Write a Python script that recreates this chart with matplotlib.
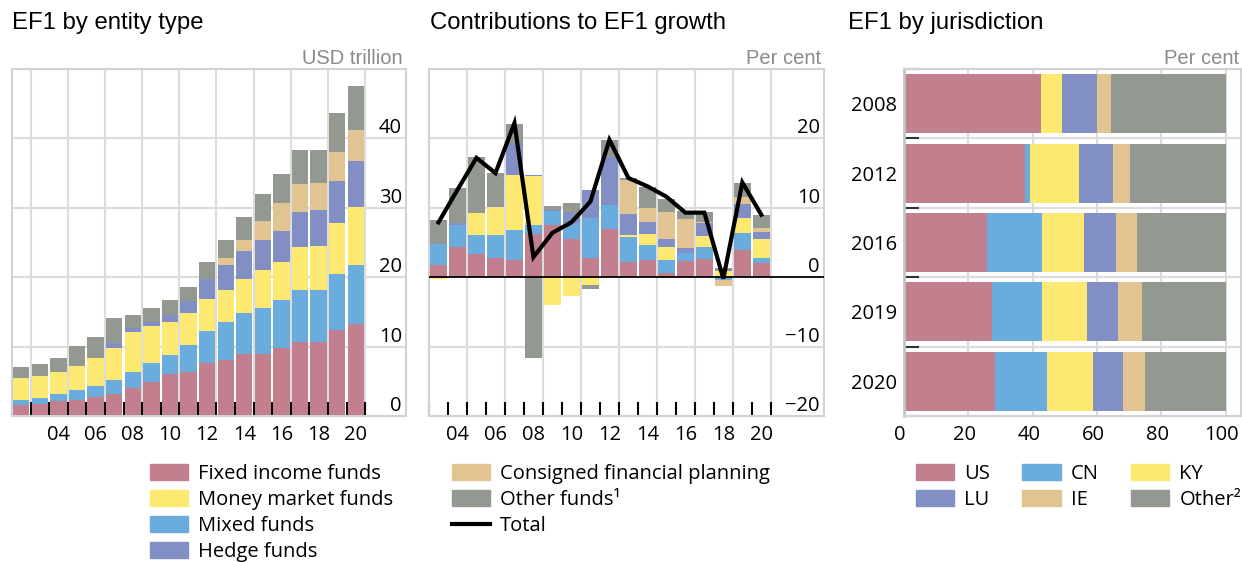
import numpy as np
import matplotlib
matplotlib.use('Agg')
import matplotlib.pyplot as plt
from matplotlib.patches import Patch
from matplotlib.lines import Line2D
from matplotlib.transforms import ScaledTranslation

plt.rcParams.update({
    'font.family': ['Open Sans', 'DejaVu Sans'],
    'font.size': 14.5,
    'axes.unicode_minus': True,
})

# ── Data: EF1 by entity type (USD trillion) ──
years_level = np.arange(2002, 2021)
fixed_income = [1.6, 1.7, 2.2, 2.3, 2.8, 3.1, 4.0, 4.9, 6.0, 6.4, 7.7, 8.1, 8.9, 9.0, 9.8, 10.7, 10.7, 12.4, 13.2]
mixed = [0.7, 0.9, 1.0, 1.5, 1.55, 2.1, 2.3, 2.75, 2.85, 3.9, 4.6, 5.4, 5.9, 6.5, 6.9, 7.4, 7.4, 8.0, 8.5]
money_market = [3.2, 3.2, 3.2, 3.4, 3.95, 4.65, 5.8, 5.3, 4.75, 4.6, 4.5, 4.6, 4.9, 5.5, 5.5, 6.2, 6.4, 7.4, 8.4]
hedge = [0, 0, 0, 0, 0, 0.6, 0.6, 0.55, 0.9, 1.6, 2.9, 3.6, 4.1, 4.35, 4.5, 5.1, 5.2, 6.0, 6.7]
consigned = [0, 0, 0, 0, 0, 0, 0, 0, 0, 0, 0, 1.05, 1.55, 2.75, 4.0, 4.1, 3.9, 4.3, 4.4]
other = [1.5, 1.7, 2.0, 2.85, 3.15, 3.6, 1.85, 2.0, 2.15, 2.05, 2.45, 2.6, 3.35, 3.9, 4.2, 4.8, 4.8, 5.5, 6.3]

# ── Data: contributions to EF1 growth (per cent) ──
years_growth = np.arange(2003, 2021)
g_fixed = [1.7, 4.3, 3.3, 2.7, 2.45, 6.25, 7.5, 5.5, 2.75, 6.9, 2.2, 2.45, 0.6, 2.3, 2.6, -0.1, 3.9, 2.0]
g_mixed = [3.1, 3.25, 2.75, 3.45, 4.35, 1.25, 2.0, 2.3, 5.8, 3.5, 3.6, 2.15, 1.9, 1.15, 1.7, -0.3, 2.45, 0.75]
g_money = [-0.2, 0, 3.15, 3.9, 7.9, 7.1, -4.0, -2.7, -1.15, 0, 0.25, 1.65, 1.85, 0, 1.6, 0.9, 2.2, 2.75]
g_hedge = [0, 0.25, 0, 0.2, 4.6, 0.1, 0.2, 1.4, 3.95, 6.9, 3.05, 1.65, 1.2, 0.75, 1.9, 0.15, 1.95, 1.0]
g_consigned = [0, 0, 0, 0, 0, 0, 0, 0, 0, 0, 4.9, 2.05, 3.9, 4.2, 0.1, -0.8, 1.0, 0.6]
g_other = [3.4, 5.0, 8.1, 4.8, 2.8, -11.6, 0.6, 1.5, -0.6, 2.4, 0.3, 3.05, 1.85, 1.1, 1.5, 0.3, 2.1, 1.8]
g_total = [7.9, 12.6, 17.2, 15.0, 22.2, 2.9, 6.4, 7.9, 10.9, 19.8, 14.3, 13.1, 11.6, 9.3, 9.3, -0.2, 13.65, 9.0]

# ── Data: EF1 by jurisdiction (per cent) ──
jur_years = ['2008', '2012', '2016', '2019', '2020']
j_us = [42.5, 37.6, 25.7, 27.3, 28.2]
j_cn = [0, 1.5, 17.1, 15.5, 16.2]
j_ky = [6.6, 15.3, 13.1, 14.0, 14.3]
j_lu = [10.9, 10.5, 10.0, 9.7, 9.3]
j_ie = [4.3, 5.3, 6.5, 7.5, 6.9]
j_other = [35.7, 29.8, 27.6, 26.0, 25.1]

# ── Colours ──
C_PINK = '#C27F8E'
C_YELLOW = '#FDE972'
C_BLUE = '#6AACDE'
C_PURPLE = '#828FC5'
C_TAN = '#E2C392'
C_GREY = '#939990'
GRID = '#dcdcdc'
FRAME = '#d2d2d2'
UNIT = '#8a8a8a'

W, H = 1242, 562
fig = plt.figure(figsize=(W / 100, H / 100), dpi=100)


def px_axes(x0, y0, x1, y1):
    return fig.add_axes([x0 / W, 1 - y1 / H, (x1 - x0) / W, (y1 - y0) / H])


def frame(ax):
    for s in ax.spines.values():
        s.set_color(FRAME)
        s.set_linewidth(1.5)


ax1 = px_axes(12, 69, 406, 416)
ax2 = px_axes(429, 69, 824, 416)
ax3 = px_axes(904, 69, 1241, 416)

# ── Panel 1: stacked levels ──
series1 = [fixed_income, mixed, money_market, hedge, consigned, other]
colors1 = [C_PINK, C_BLUE, C_YELLOW, C_PURPLE, C_TAN, C_GREY]
bottom = np.zeros(len(years_level))
for vals, col in zip(series1, colors1):
    ax1.bar(years_level, vals, 0.88, bottom=bottom, color=col, zorder=2)
    bottom += np.array(vals)
ax1.set_xlim(2001.53, 2022.7)
ax1.set_ylim(0, 50)
for x in np.arange(2002.5, 2021, 2):
    ax1.axvline(x, color=GRID, lw=1.5, zorder=0)
for y in [10, 20, 30, 40]:
    ax1.axhline(y, color=GRID, lw=1.5, zorder=0)
ax1.set_xticks(np.arange(2004, 2021, 2))
ax1.set_xticklabels([f'{y % 100:02d}' for y in range(2004, 2021, 2)])
ax1.set_xticks(np.arange(2001.5, 2021, 1), minor=True)
ax1.tick_params(axis='x', which='major', length=0, pad=6.2)
ax1.tick_params(axis='x', which='minor', direction='in', length=10, width=1.5, color='black')
ax1.set_yticks([0, 10, 20, 30, 40])
ax1.tick_params(axis='y', length=0, pad=-3, left=False, labelleft=False, labelright=True)
for t in ax1.yaxis.get_major_ticks():
    t.label2.set_ha('right')
    t.label2.set_va('bottom')
frame(ax1)

# ── Panel 2: contributions to growth ──
series2 = [g_fixed, g_mixed, g_money, g_hedge, g_consigned, g_other]
pos = np.zeros(len(years_growth))
neg = np.zeros(len(years_growth))
for vals, col in zip(series2, colors1):
    v = np.array(vals, dtype=float)
    base = np.where(v >= 0, pos, neg)
    ax2.bar(years_growth, v, 0.88, bottom=base, color=col, zorder=2)
    pos += np.where(v >= 0, v, 0)
    neg += np.where(v < 0, v, 0)
ax2.plot(years_growth, g_total, color='black', lw=3, zorder=4, solid_joinstyle='miter')
ax2.axhline(0, color='black', lw=1.3, zorder=3)
ax2.set_xlim(2002.53, 2023.3)
ax2.set_ylim(-20, 30)
for x in np.arange(2004.5, 2021, 2):
    ax2.axvline(x, color=GRID, lw=1.5, zorder=0)
for y in [-10, 10, 20]:
    ax2.axhline(y, color=GRID, lw=1.5, zorder=0)
ax2.set_xticks(np.arange(2004, 2021, 2))
ax2.set_xticklabels([f'{y % 100:02d}' for y in range(2004, 2021, 2)])
ax2.set_xticks(np.arange(2002.5, 2021, 1), minor=True)
ax2.tick_params(axis='x', which='major', length=0, pad=6.2)
ax2.tick_params(axis='x', which='minor', direction='in', length=10, width=1.5, color='black')
ax2.set_yticks([-20, -10, 0, 10, 20])
ax2.tick_params(axis='y', length=0, pad=-3, left=False, labelleft=False, labelright=True)
for t in ax2.yaxis.get_major_ticks():
    t.label2.set_ha('right')
    t.label2.set_va('bottom')
frame(ax2)

# ── Panel 3: jurisdiction shares ──
series3 = [j_us, j_cn, j_ky, j_lu, j_ie, j_other]
colors3 = [C_PINK, C_BLUE, C_YELLOW, C_PURPLE, C_TAN, C_GREY]
ypos = np.arange(len(jur_years))
left = np.zeros(len(jur_years))
for vals, col in zip(series3, colors3):
    ax3.barh(ypos, vals, 0.85, left=left, color=col, zorder=2)
    left += np.array(vals)
ax3.set_xlim(0, 104.8)
ax3.set_ylim(4.5, -0.5)
for x in [20, 40, 60, 80, 100]:
    ax3.axvline(x, color=GRID, lw=1.5, zorder=0)
for y in [0.5, 1.5, 2.5, 3.5]:
    ax3.axhline(y, color=GRID, lw=1.5, zorder=0)
ax3.set_yticks(ypos)
ax3.set_yticklabels(jur_years)
ax3.set_yticks(np.arange(-0.5, 5, 1), minor=True)
ax3.tick_params(axis='y', which='major', length=0, pad=5)
ax3.tick_params(axis='y', which='minor', direction='in', length=10.5, width=1.5, color='#333333')
ax3.set_xticks([0, 20, 40, 60, 80, 100])
ax3.tick_params(axis='x', length=0, pad=6.2)
shift = ScaledTranslation(-4 / 100, 0, fig.dpi_scale_trans)
for lbl in ax3.get_xticklabels():
    lbl.set_transform(lbl.get_transform() + shift)
frame(ax3)
ax3.spines['left'].set_color('#c4c4c4')
ax3.spines['left'].set_linewidth(2)

# ── Titles and units ──
for x, txt in [(12, 'EF1 by entity type'), (430, 'Contributions to EF1 growth'), (848, 'EF1 by jurisdiction')]:
    fig.text(x / W, 1 - 29.3 / H, txt, fontsize=17.2, family='Liberation Sans', va='baseline')
for x, txt in [(403, 'USD trillion'), (821, 'Per cent'), (1239, 'Per cent')]:
    fig.text(x / W, 1 - 64 / H, txt, fontsize=14.5, family='Liberation Sans', va='baseline',
             ha='right', color=UNIT)

# ── Legends ──
leg_kw = dict(loc='upper left', frameon=False, borderpad=0, borderaxespad=0,
              handlelength=1.9, handleheight=0.8, handletextpad=0.5, labelspacing=0.3)
h1 = [Patch(color=c) for c in [C_PINK, C_YELLOW, C_BLUE, C_PURPLE]]
fig.legend(h1, ['Fixed income funds', 'Money market funds', 'Mixed funds', 'Hedge funds'],
           bbox_to_anchor=(150 / W, 1 - 464 / H), **leg_kw)
h2 = [Patch(color=C_TAN), Patch(color=C_GREY), Line2D([], [], color='black', lw=3)]
fig.legend(h2, ['Consigned financial planning', 'Other funds\u00b9', 'Total'],
           bbox_to_anchor=(452 / W, 1 - 464 / H), **leg_kw)
h3 = [Patch(color=c) for c in [C_PINK, C_PURPLE, C_BLUE, C_TAN, C_YELLOW, C_GREY]]
fig.legend(h3, ['US', 'LU', 'CN', 'IE', 'KY', 'Other\u00b2'], ncol=3, columnspacing=1.6,
           bbox_to_anchor=(916 / W, 1 - 464 / H), **leg_kw)

fig.savefig('out.png', dpi=100)
